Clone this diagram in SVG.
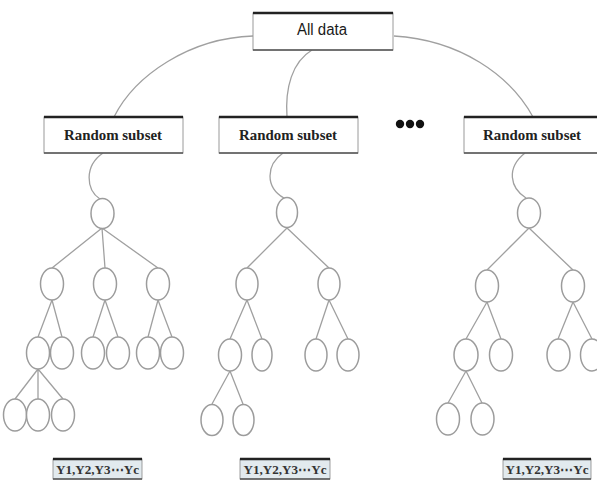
<svg xmlns="http://www.w3.org/2000/svg" width="597" height="483" viewBox="0 0 597 483">
<style>
.box{fill:#fff;stroke:#9a9a9a;stroke-width:1}
.top{stroke:#222;stroke-width:2.4}
.bot{stroke:#555;stroke-width:1.5}
.lbl{font-family:"Liberation Serif",serif;font-weight:bold;font-size:14px;fill:#222;text-anchor:middle}
.sans{font-family:"Liberation Sans",sans-serif;font-size:16px;fill:#1a1a1a;text-anchor:middle}
.n{fill:#fff;stroke:#9c9c9c;stroke-width:1.5}
.c{fill:none;stroke:#a0a0a0;stroke-width:1.3}
.ybox{fill:#e2eaee;stroke:#888;stroke-width:0.8}
.ytxt{font-family:"Liberation Serif",serif;font-weight:bold;font-size:13px;fill:#333;text-anchor:middle}
</style>
<rect width="597" height="483" fill="#fff"/>
<g id="connectors">
<path class="c" d="M253,36 C190,38 135,75 114,117"/>
<path class="c" d="M312,50 C292,62 285,88 287,117"/>
<path class="c" d="M394,36 C460,40 510,75 533,117"/>
<path class="c" d="M103,153 C84,166 86,190 100,199"/>
<path class="c" d="M283,153 C266,165 265,187 284,198"/>
<path class="c" d="M525,153 C506,168 510,188 526,198"/>
<!-- tree 1 -->
<path class="c" d="M102,228 L52,268 M102,228 L105,268 M102,228 L158,268"/>
<path class="c" d="M52,300 L38,337 M52,300 L62,337"/>
<path class="c" d="M105,300 L93,337 M105,300 L118,337"/>
<path class="c" d="M158,300 L148,337 M158,300 L172,337"/>
<path class="c" d="M38,369 L15,399 M38,369 L38,399 M38,369 L63,399"/>
<!-- tree 2 -->
<path class="c" d="M287,228 L247,268 M287,228 L329,268"/>
<path class="c" d="M247,300 L230,339 M247,300 L262,339"/>
<path class="c" d="M329,300 L316,339 M329,300 L348,339"/>
<path class="c" d="M230,371 L212,404 M230,371 L243,404"/>
<!-- tree 3 -->
<path class="c" d="M529,228 L487,270 M529,228 L573,270"/>
<path class="c" d="M487,302 L466,339 M487,302 L501,339"/>
<path class="c" d="M573,302 L558,339 M573,302 L592,339"/>
<path class="c" d="M466,371 L448,403 M466,371 L482,403"/>
</g>
<g id="all-data">
<rect class="box" x="253" y="13" width="140" height="37"/>
<line class="top" x1="253" y1="13" x2="393" y2="13"/>
<line class="bot" x1="253" y1="50" x2="393" y2="50"/>
<text class="sans" x="322" y="35" textLength="50" lengthAdjust="spacingAndGlyphs">All data</text>
</g>
<g id="subset-1">
<rect class="box" x="44" y="117" width="139" height="36"/>
<line class="top" x1="44" y1="117" x2="183" y2="117"/>
<line class="bot" x1="44" y1="153" x2="183" y2="153"/>
<text class="lbl" x="113" y="140" textLength="98" lengthAdjust="spacingAndGlyphs">Random subset</text>
</g>
<g id="subset-2">
<rect class="box" x="219" y="117" width="139" height="36"/>
<line class="top" x1="219" y1="117" x2="358" y2="117"/>
<line class="bot" x1="219" y1="153" x2="358" y2="153"/>
<text class="lbl" x="288" y="140" textLength="98" lengthAdjust="spacingAndGlyphs">Random subset</text>
</g>
<g id="ellipsis">
<circle cx="400" cy="124" r="4.2" fill="#111"/>
<circle cx="410" cy="124" r="4.2" fill="#111"/>
<circle cx="420" cy="124" r="4.2" fill="#111"/>
</g>
<g id="subset-3">
<rect class="box" x="464" y="117" width="134" height="36"/>
<line class="top" x1="464" y1="117" x2="597" y2="117"/>
<line class="bot" x1="464" y1="153" x2="597" y2="153"/>
<text class="lbl" x="532" y="140" textLength="98" lengthAdjust="spacingAndGlyphs">Random subset</text>
</g>
<g id="tree-1">
<ellipse class="n" cx="102.5" cy="213.5" rx="11.5" ry="15"/>
<ellipse class="n" cx="52" cy="284" rx="11.5" ry="16"/>
<ellipse class="n" cx="105" cy="284" rx="11.5" ry="16"/>
<ellipse class="n" cx="158" cy="284" rx="11.5" ry="16"/>
<ellipse class="n" cx="38" cy="353" rx="11.5" ry="16"/>
<ellipse class="n" cx="62" cy="353" rx="11.5" ry="16"/>
<ellipse class="n" cx="93" cy="353" rx="11.5" ry="16"/>
<ellipse class="n" cx="118" cy="353" rx="11.5" ry="16"/>
<ellipse class="n" cx="148" cy="353" rx="11.5" ry="16"/>
<ellipse class="n" cx="172" cy="353" rx="11.5" ry="16"/>
<ellipse class="n" cx="15" cy="415" rx="11.5" ry="16"/>
<ellipse class="n" cx="38" cy="415" rx="11.5" ry="16"/>
<ellipse class="n" cx="63" cy="415" rx="11.5" ry="16"/>
</g>
<g id="tree-2">
<ellipse class="n" cx="287" cy="212.5" rx="10.5" ry="15"/>
<ellipse class="n" cx="247" cy="284" rx="11" ry="16"/>
<ellipse class="n" cx="329" cy="284" rx="11" ry="16"/>
<ellipse class="n" cx="230" cy="355" rx="11.5" ry="16"/>
<ellipse class="n" cx="262" cy="355" rx="10" ry="16"/>
<ellipse class="n" cx="316" cy="355" rx="11" ry="16"/>
<ellipse class="n" cx="348" cy="355" rx="11" ry="16"/>
<ellipse class="n" cx="212" cy="420" rx="11" ry="15.5"/>
<ellipse class="n" cx="243.5" cy="420" rx="10.5" ry="15.5"/>
</g>
<g id="tree-3">
<ellipse class="n" cx="529" cy="213" rx="11.5" ry="15"/>
<ellipse class="n" cx="487" cy="286" rx="11.5" ry="16"/>
<ellipse class="n" cx="573" cy="286" rx="11.5" ry="16"/>
<ellipse class="n" cx="466" cy="355" rx="12" ry="16"/>
<ellipse class="n" cx="501" cy="355" rx="11.5" ry="16"/>
<ellipse class="n" cx="558.5" cy="355" rx="11.5" ry="16"/>
<ellipse class="n" cx="592" cy="355" rx="11.5" ry="16"/>
<ellipse class="n" cx="448" cy="419" rx="11.5" ry="16"/>
<ellipse class="n" cx="482.5" cy="419" rx="11.5" ry="16"/>
</g>
<g id="result-1">
<rect class="ybox" x="53" y="459" width="89" height="20"/>
<line class="top" x1="53" y1="459" x2="142" y2="459"/>
<line class="bot" x1="53" y1="479" x2="142" y2="479"/>
<text class="ytxt" x="97.5" y="474" textLength="83" lengthAdjust="spacingAndGlyphs">Y1,Y2,Y3⋯Yc</text>
</g>
<g id="result-2">
<rect class="ybox" x="240" y="459" width="90" height="20"/>
<line class="top" x1="240" y1="459" x2="330" y2="459"/>
<line class="bot" x1="240" y1="479" x2="330" y2="479"/>
<text class="ytxt" x="285" y="474" textLength="83" lengthAdjust="spacingAndGlyphs">Y1,Y2,Y3⋯Yc</text>
</g>
<g id="result-3">
<rect class="ybox" x="503" y="459" width="88" height="20"/>
<line class="top" x1="503" y1="459" x2="591" y2="459"/>
<line class="bot" x1="503" y1="479" x2="591" y2="479"/>
<text class="ytxt" x="547" y="474" textLength="83" lengthAdjust="spacingAndGlyphs">Y1,Y2,Y3⋯Yc</text>
</g>
</svg>
